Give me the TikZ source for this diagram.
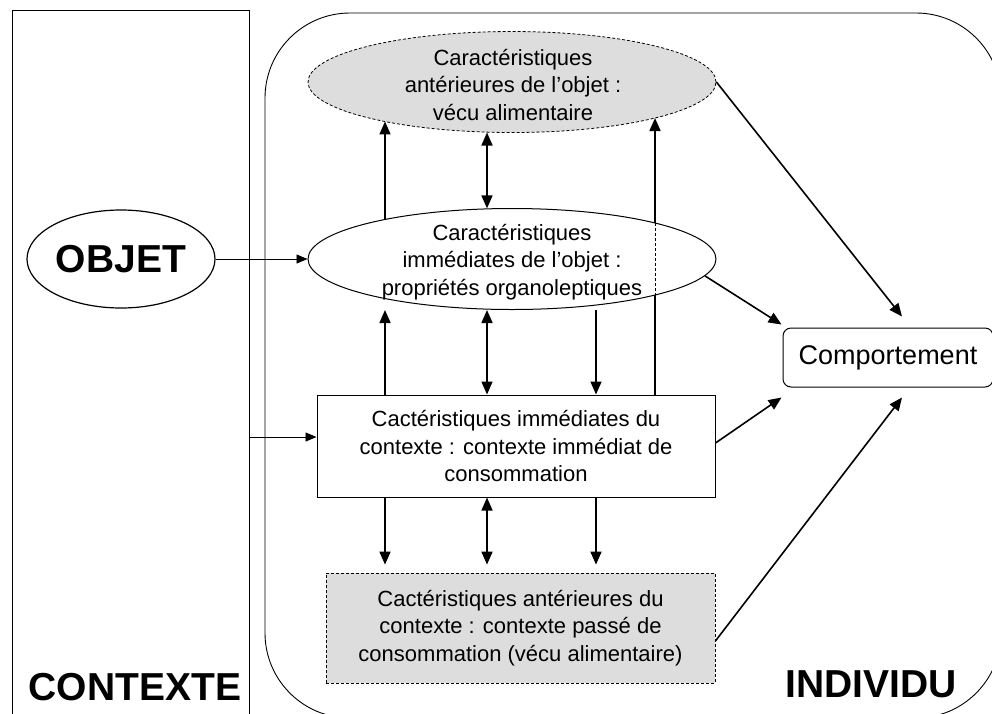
\documentclass[tikz,border=0pt]{standalone}
\usepackage{fontspec}
\setmainfont{Liberation Sans}
\usetikzlibrary{arrows.meta,shapes.geometric}
\definecolor{grisclair}{RGB}{221,221,221}
\begin{document}
\begin{tikzpicture}[x=1pt, y=-1pt,
	fl/.style={line width=1.6pt, -{Triangle[length=13pt,width=11pt]}},
	dfl/.style={line width=1.6pt, {Triangle[length=13pt,width=11pt]}-{Triangle[length=13pt,width=11pt]}},
	flfine/.style={line width=0.9pt, -{Triangle[length=11pt,width=9pt]}},
	pointille/.style={dash pattern=on 3pt off 2pt},
	txt/.style={font=\fontsize{22}{27.5}\selectfont, align=center},
	gros/.style={font=\fontsize{39}{44}\selectfont\bfseries},
	ovale/.style={ellipse, draw, line width=1pt, inner sep=0pt, minimum width=408pt, minimum height=101pt},
	boite/.style={rectangle, draw, line width=1pt, inner sep=0pt}]
	\useasboundingbox (0,0) rectangle (992,713);
	
	%cadres contexte / individu
	\node[draw, line width=0.9pt, minimum width=237pt, minimum height=720pt, anchor=north west] (cadre) at (12,10) {};
	\draw[line width=0.9pt, rounded corners=85pt] (265,13) rectangle (1001,718);
	\node[gros, anchor=base] (contexte) at (135,700) {CONTEXTE};
	\node[gros, anchor=base] (individu) at (871,697) {INDIVIDU};
	
	\node[ellipse, draw, line width=1.2pt, inner sep=0pt, minimum width=188pt, minimum height=98pt, gros] (obj) at (121,259) {OBJET};
	\node[boite, rounded corners=8pt, minimum width=210pt, minimum height=59pt, font=\fontsize{27}{32}\selectfont] (comp) at (888,357.5) {Comportement};
	
	%caracteristiques
	\node[ovale, pointille, line width=0.8pt, fill=grisclair] (ante) at (512,82) {};
	\node[txt] (ante-txt) at (513,85) {Caractéristiques\\antérieures de l’objet :\\vécu alimentaire};
	\node[boite, fill=white, minimum width=398pt, minimum height=102pt, txt] (ctx) at (516,446) {Cactéristiques immédiates du\\contexte : contexte immédiat de\\consommation};
	\node[boite, pointille, line width=0.8pt, fill=grisclair, minimum width=389pt, minimum height=110pt, txt] (past) at (520.5,628) {Cactéristiques antérieures du\\contexte : contexte passé de\\consommation (vécu alimentaire)};
	
	\coordinate (c1) at (385,0);
	\coordinate (c2) at (487,0);
	\coordinate (c3) at (596,0);
	\coordinate (c4) at (655,0);
	
	%fleche longue, cachee par l'ellipse
	\draw[fl] (ctx.north -| c4) -- (ante.346 -| c4);
	\node[ovale, fill=white] (imm) at (512,259) {};
	\node[txt] (imm-txt) at (512,262) {Caractéristiques\\immédiates de l’objet :\\propriétés organoleptiques};
	\draw[line width=0.8pt, pointille] (imm.14 -| c4) -- (imm.346 -| c4);
	
	\draw[fl] (imm.163 -| c1) -- (ante.197 -| c1);
	\draw[dfl] (imm.116 -| c2) -- (ante.243 -| c2);
	
	\draw[fl] (ctx.north -| c1) -- (imm.south -| c1);
	\draw[dfl] (ctx.north -| c2) -- (imm.south -| c2);
	\draw[fl] (imm.south -| c3) -- (ctx.north -| c3);
	
	\draw[fl, shorten >=8pt] (ctx.south -| c1) -- (past.north -| c1);
	\draw[dfl, shorten >=8pt] (ctx.south -| c2) -- (past.north -| c2);
	\draw[fl, shorten >=8pt] (ctx.south -| c3) -- (past.north -| c3);
	
	%entrees
	\draw[flfine] (obj.east) -- (imm.west);
	\coordinate (entree) at ([yshift=9pt]ctx.west);
	\draw[flfine] (cadre.east |- entree) -- (entree);
	
	%vers le comportement
	\draw[fl] (ante.east) -- ([xshift=14pt,yshift=11pt]comp.north);
	\draw[fl] (imm.355) -- ([xshift=-1pt,yshift=3pt]comp.north west);
	\draw[fl] ([yshift=3pt]ctx.east) -- ([xshift=-1pt,yshift=-10pt]comp.south west);
	\draw[fl] ([yshift=-13pt]past.east) -- ([xshift=14pt,yshift=-10pt]comp.south);
\end{tikzpicture}
\end{document}
